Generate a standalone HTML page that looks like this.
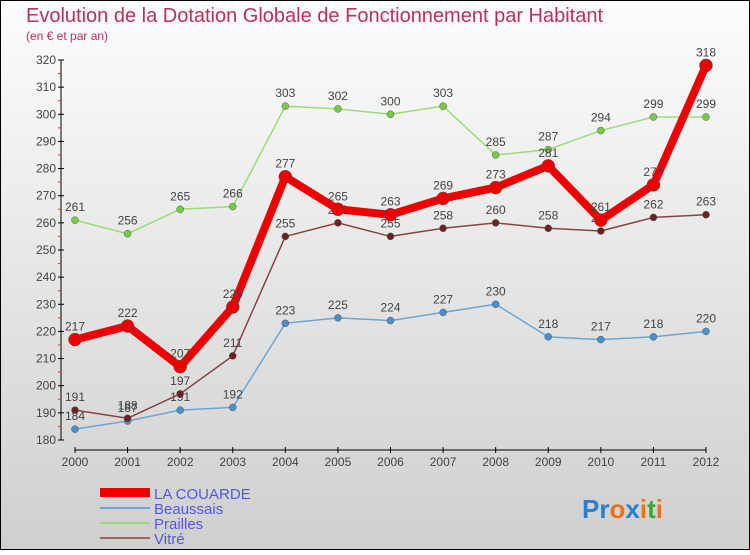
<!DOCTYPE html>
<html><head><meta charset="utf-8"><style>
body{margin:0}
svg text{font-family:"Liberation Sans",sans-serif}
</style></head><body>
<svg id="c" width="750" height="550" xmlns="http://www.w3.org/2000/svg">
<defs><linearGradient id="bg" x1="0" y1="0" x2="0" y2="1"><stop offset="0" stop-color="#fdfdfd"/><stop offset="1" stop-color="#cfcfcf"/></linearGradient></defs>
<rect x="0.5" y="0.5" width="749" height="549" fill="url(#bg)" stroke="#000"/>
<text x="26" y="22" font-size="20" fill="#c0305a">Evolution de la Dotation Globale de Fonctionnement par Habitant</text>
<text x="26" y="40" font-size="12" fill="#c0305a">(en € et par an)</text>
<g id="axes"></g><g id="series"></g>
<g>
<rect x="100" y="488" width="50" height="9" fill="#e00"/>
<text x="154" y="499" font-size="15" fill="#5555ee">LA COUARDE</text>
<rect x="100" y="507" width="50" height="2" fill="#6fa5d2"/>
<text x="154" y="514" font-size="15" fill="#5555ee">Beaussais</text>
<rect x="100" y="522" width="50" height="2" fill="#99dd77"/>
<text x="154" y="529" font-size="15" fill="#5555ee">Prailles</text>
<rect x="100" y="537" width="50" height="2" fill="#996666"/>
<text x="154" y="544" font-size="15" fill="#5555ee">Vitré</text>
</g>
<text x="582" y="518" font-size="26" font-weight="bold"><tspan fill="#2a7fd0">Pr</tspan><tspan fill="#f07010">o</tspan><tspan fill="#2a7fd0">x</tspan><tspan fill="#f07010">i</tspan><tspan fill="#33aa33">t</tspan><tspan fill="#f07010">i</tspan></text>
</svg>
<script>
const years=[2000,2001,2002,2003,2004,2005,2006,2007,2008,2009,2010,2011,2012];
const yTicks=[180,190,200,210,220,230,240,250,260,270,280,290,300,310,320];
const laCouarde=[217,222,207,229,277,265,263,269,273,281,261,274,318];
const beaussais=[184,187,191,192,223,225,224,227,230,218,217,218,220];
const prailles=[261,256,265,266,303,302,300,303,285,287,294,299,299];
const vitre=[191,188,197,211,255,260,255,258,260,258,257,262,263];
const NS="http://www.w3.org/2000/svg";
const xS=i=>75+i*(706-75)/12;
const yS=v=>440-(v-180)*(380/140);
function mk(t,a,p){const e=document.createElementNS(NS,t);for(const k in a)e.setAttribute(k,a[k]);p.appendChild(e);return e;}
const ax=document.getElementById('axes');
let l=mk('line',{x1:61,y1:60,x2:61,y2:440,stroke:'#000'},ax);


l=mk('line',{x1:75,y1:450,x2:706,y2:450,stroke:'#000'},ax);


yTicks.forEach(v=>{const y=yS(v);
 mk('line',{x1:58,y1:y,x2:64,y2:y,stroke:'#000'},ax);
 if(v<320)mk('line',{x1:58,y1:y-13.6,x2:61,y2:y-13.6,stroke:'#e33'},ax);
 const t=mk('text',{x:56,y:y+4,'font-size':12,'text-anchor':'end',fill:'#444'},ax);t.textContent=v;
 
 });
years.forEach((yr,i)=>{const x=xS(i);
 mk('line',{x1:x,y1:447,x2:x,y2:453,stroke:'#000'},ax);
 const t=mk('text',{x:x,y:466,'font-size':12,'text-anchor':'middle',fill:'#444'},ax);t.textContent=yr;
 
 });
const sg=document.getElementById('series');
function draw(data,color,w,r,name,dot){
 const g=mk('g',{},sg);
 
 
 const p=mk('polyline',{points:data.map((v,i)=>xS(i)+','+yS(v)).join(' '),fill:'none',stroke:color,'stroke-width':w,'stroke-linejoin':'round'},g);
 
 
 data.forEach((v,i)=>{const c=mk('circle',{cx:xS(i),cy:yS(v),r:r,fill:dot,stroke:'#555','stroke-width':0.5},g);
  
  
  const t=mk('text',{x:xS(i),y:yS(v)-9,'font-size':12,'text-anchor':'middle',fill:'#444'},g);t.textContent=v;
  
  });
}
draw(prailles,'#99dd77',1.5,3.5,'prailles','#77cc44');
draw(beaussais,'#6fa5d2',1.5,3.5,'beaussais','#4a90cc');
draw(vitre,'#884444',1.5,3.5,'vitre','#6a2222');
draw(laCouarde,'#ee0000',8,6.5,'la-couarde','#ee0000');
</script>
</body></html>
